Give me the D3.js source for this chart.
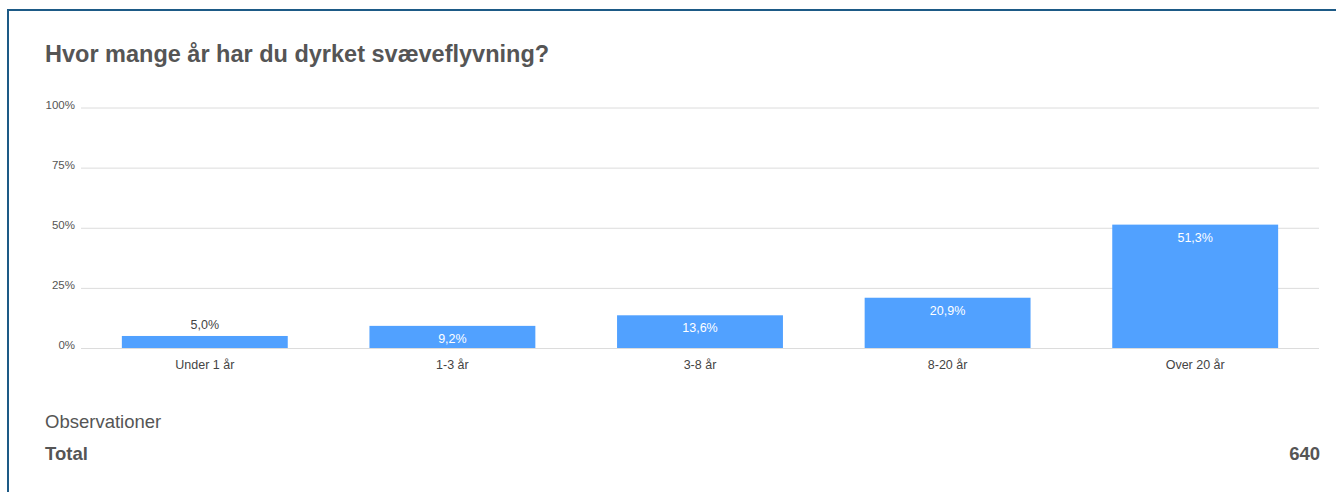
<!DOCTYPE html>
<html>
<head>
<meta charset="utf-8">
<script src="https://cdn.jsdelivr.net/npm/d3@7"></script>
<style>
  html, body { margin: 0; padding: 0; background: #fff; }
  svg { display: block; font-family: "Liberation Sans", Arial, sans-serif; }
</style>
</head>
<body>
<svg id="chart" width="1336" height="492"></svg>
<script>
const title = "Hvor mange år har du dyrket svæveflyvning?";
const categories = ["Under 1 år", "1-3 år", "3-8 år", "8-20 år", "Over 20 år"];
const values = [5.0, 9.2, 13.6, 20.9, 51.3];
const valueLabels = ["5,0%", "9,2%", "13,6%", "20,9%", "51,3%"];
const yTicks = [0, 25, 50, 75, 100];
const yTickLabels = ["0%", "25%", "50%", "75%", "100%"];
const footerLabel = "Observationer";
const totalLabel = "Total";
const totalValue = 640;

const svg = d3.select("#chart");

// frame (top and left border)
svg.append("path")
  .attr("d", "M8,492 L8,10 L1336,10")
  .attr("fill", "none")
  .attr("stroke", "#1d5a86")
  .attr("stroke-width", 2);

svg.append("text")
  .attr("x", 45).attr("y", 62)
  .attr("font-size", 23.5).attr("font-weight", "bold")
  .attr("fill", "#555")
  .text(title);

const x = d3.scaleBand().domain(categories).range([81, 1319]).paddingInner(0.33).paddingOuter(0.165);
const y = d3.scaleLinear().domain([0, 100]).range([348, 107.5]);

// gridlines
const yAxis = d3.axisLeft(y).tickValues(yTicks).tickSize(-(1319 - 81))
  .tickFormat((d, i) => yTickLabels[i]);
const gy = svg.append("g").attr("transform", "translate(81,0)").call(yAxis);
gy.select(".domain").remove();
gy.selectAll(".tick line").attr("stroke", "#dcdcdc").attr("stroke-width", 1);
gy.selectAll(".tick text").attr("x", -6).attr("font-size", 11.5).attr("fill", "#555")
  .attr("font-family", "'Liberation Sans', Arial, sans-serif").attr("dy", "0.05em");

// bars
svg.append("g").selectAll("rect").data(values).join("rect")
  .attr("x", (d, i) => x(categories[i]))
  .attr("y", d => y(d))
  .attr("width", x.bandwidth())
  .attr("height", d => y(0) - y(d))
  .attr("fill", "#51a1ff");

// value labels
svg.append("g").selectAll("text").data(values).join("text")
  .attr("x", (d, i) => x(categories[i]) + x.bandwidth() / 2)
  .attr("y", d => (y(0) - y(d)) < 20 ? y(d) - 7 : y(d) + 17)
  .attr("text-anchor", "middle")
  .attr("font-size", 12.5)
  .attr("fill", d => (y(0) - y(d)) < 20 ? "#444" : "#fff")
  .text((d, i) => valueLabels[i]);

// category axis
const xAxis = d3.axisBottom(x).tickSize(0).tickPadding(0);
const gx = svg.append("g").attr("transform", "translate(0,348)").call(xAxis);
gx.select(".domain").remove();
gx.selectAll(".tick text").attr("y", 21).attr("dy", 0).attr("font-size", 12.5).attr("fill", "#444")
  .attr("font-family", "'Liberation Sans', Arial, sans-serif");

// footer
svg.append("text").attr("x", 45).attr("y", 428)
  .attr("font-size", 18.5).attr("fill", "#555").text(footerLabel);
svg.append("text").attr("x", 45).attr("y", 460)
  .attr("font-size", 18.5).attr("font-weight", "bold").attr("fill", "#555").text(totalLabel);
svg.append("text").attr("x", 1320).attr("y", 460).attr("text-anchor", "end")
  .attr("font-size", 18.5).attr("font-weight", "bold").attr("fill", "#555").text(totalValue);
</script>
</body>
</html>
